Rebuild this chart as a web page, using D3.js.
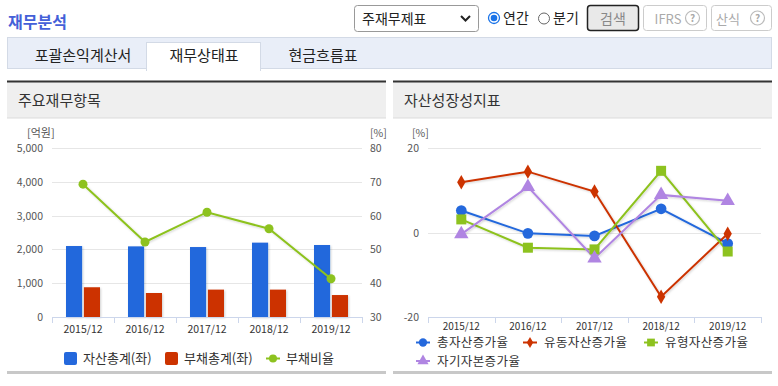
<!DOCTYPE html>
<html>
<head>
<meta charset="utf-8">
<script src="https://cdn.jsdelivr.net/npm/d3@7"></script>
<style>
  body { margin: 0; background: #fff; }
  svg text { font-family: "Noto Sans CJK KR", "Noto Sans", sans-serif; }
</style>
</head>
<body>
<div id="container"></div>
<script>
// 데이터
var years = ["2015/12", "2016/12", "2017/12", "2018/12", "2019/12"];
var assets = [2100, 2090, 2070, 2200, 2130];
var liabilities = [880, 710, 810, 810, 650];
var debtRatio = [69.3, 52.2, 61.0, 56.1, 41.3];
var leftTicks = [0, 1000, 2000, 3000, 4000, 5000];
var rightTicks = [30, 40, 50, 60, 70, 80];

var totalAssetGrowth = [5.2, -0.2, -0.8, 5.6, -2.6];
var currentAssetGrowth = [11.9, 14.4, 9.7, -15.2, -0.3];
var tangibleAssetGrowth = [3.1, -3.6, -4.0, 14.6, -4.5];
var equityGrowth = [-0.4, 10.8, -6.1, 8.9, 7.5];
var growthTicks = [-20, 0, 20];

var tabs = ["포괄손익계산서", "재무상태표", "현금흐름표"];

var svg = d3.select("#container").append("svg")
  .attr("width", 778).attr("height", 386);

var defs = svg.append("defs");
var f = defs.append("filter").attr("id", "shadow").attr("x", "-20%").attr("y", "-20%").attr("width", "150%").attr("height", "150%");
f.append("feDropShadow").attr("dx", 1).attr("dy", 1).attr("stdDeviation", 0.8)
  .attr("flood-color", "#000").attr("flood-opacity", 0.18);

// 상단 제목 / 컨트롤
svg.append("text").text("재무분석").attr("x", 8).attr("y", 28)
  .attr("font-size", 16).attr("font-weight", "bold").attr("fill", "#4460d8");

svg.append("rect").attr("x", 354.5).attr("y", 5.5).attr("width", 124).attr("height", 26).attr("rx", 3)
  .attr("fill", "#fff").attr("stroke", "#999");
svg.append("text").text("주재무제표").attr("x", 362).attr("y", 24).attr("font-size", 14).attr("fill", "#222");
svg.append("path").attr("d", "M461,16 L465.5,20.5 L470,16").attr("fill", "none").attr("stroke", "#222").attr("stroke-width", 2);

svg.append("circle").attr("cx", 494).attr("cy", 18).attr("r", 5.5).attr("fill", "#fff").attr("stroke", "#1a73e8").attr("stroke-width", 1.3);
svg.append("circle").attr("cx", 494).attr("cy", 18).attr("r", 3.3).attr("fill", "#1a73e8");
svg.append("text").text("연간").attr("x", 503).attr("y", 23).attr("font-size", 14).attr("fill", "#222");
svg.append("circle").attr("cx", 544).attr("cy", 18.5).attr("r", 5.5).attr("fill", "#fff").attr("stroke", "#666");
svg.append("text").text("분기").attr("x", 553).attr("y", 23).attr("font-size", 14).attr("fill", "#222");

svg.append("rect").attr("x", 587.5).attr("y", 5.5).attr("width", 51).attr("height", 25).attr("rx", 3)
  .attr("fill", "#e9e9e9").attr("stroke", "#222").attr("stroke-width", 1.5);
svg.append("text").text("검색").attr("x", 613).attr("y", 23.5).attr("text-anchor", "middle").attr("font-size", 14).attr("fill", "#888");

[[643.5, 63, "IFRS", 668], [711.5, 60, "산식", 728]].forEach(function (b) {
  svg.append("rect").attr("x", b[0]).attr("y", 5.5).attr("width", b[1]).attr("height", 25).attr("rx", 3)
    .attr("fill", "#fff").attr("stroke", "#ccc");
  svg.append("text").text(b[2]).attr("x", b[3]).attr("y", 23.5).attr("text-anchor", "middle")
    .attr("font-size", 13).attr("fill", "#aaa");
  var cx = b[0] + b[1] - 14;
  svg.append("circle").attr("cx", cx).attr("cy", 18).attr("r", 7).attr("fill", "#fff").attr("stroke", "#bbb").attr("stroke-width", 1.2);
  svg.append("text").text("?").attr("x", cx).attr("y", 22).attr("text-anchor", "middle").attr("font-size", 10)
    .attr("font-weight", "bold").attr("fill", "#aaa");
});

// 탭
svg.append("rect").attr("x", 7.5).attr("y", 37.5).attr("width", 764).attr("height", 31)
  .attr("fill", "#e9eef8").attr("stroke", "#d3dae6");
svg.append("rect").attr("x", 146.5).attr("y", 42.5).attr("width", 114).attr("height", 28)
  .attr("fill", "#fff").attr("stroke", "#d3dae6");
svg.append("rect").attr("x", 147).attr("y", 67).attr("width", 113).attr("height", 4).attr("fill", "#fff");
var tabX = [83, 204, 323];
tabs.forEach(function (t, i) {
  svg.append("text").text(t).attr("x", tabX[i]).attr("y", 61).attr("text-anchor", "middle")
    .attr("font-size", 15).attr("fill", "#222");
});

// 패널
function panel(x0, title) {
  svg.append("rect").attr("x", x0).attr("y", 82).attr("width", 379).attr("height", 36).attr("fill", "#efefef");
  svg.append("rect").attr("x", x0).attr("y", 80.5).attr("width", 379).attr("height", 2).attr("fill", "#333");
  svg.append("rect").attr("x", x0).attr("y", 117.5).attr("width", 379).attr("height", 1).attr("fill", "#dcdcdc");
  svg.append("text").text(title).attr("x", x0 + 11).attr("y", 106).attr("font-size", 15).attr("fill", "#333");
  svg.append("rect").attr("x", x0).attr("y", 371).attr("width", 379).attr("height", 3).attr("fill", "#c8c8c8");
}
panel(7, "주요재무항목");
panel(393, "자산성장성지표");

var tickColor = "#555";

// ===== 왼쪽 차트 =====
var xL = d3.scaleBand().domain(years).range([52, 362]);
var xSub = d3.scaleBand().domain(["a", "l"]).range([14, 48]).paddingInner(0.1);
var yL = d3.scaleLinear().domain([0, 5000]).range([317, 148]);
var yR = d3.scaleLinear().domain([30, 80]).range([317, 148]);

var gL = svg.append("g");
gL.selectAll(".grid").data(leftTicks.slice(1)).enter().append("line")
  .attr("x1", 52).attr("x2", 362).attr("y1", function (d) { return Math.round(yL(d)) + 0.5; })
  .attr("y2", function (d) { return Math.round(yL(d)) + 0.5; }).attr("stroke", "#e6e6e6");

gL.selectAll(".yl").data(leftTicks).enter().append("text")
  .attr("x", 43).attr("y", function (d) { return yL(d) + 4; }).attr("text-anchor", "end")
  .attr("font-size", 10.5).attr("fill", tickColor).text(function (d) { return d3.format(",")(d); });
gL.selectAll(".yr").data(rightTicks).enter().append("text")
  .attr("x", 370).attr("y", function (d) { return yR(d) + 4; })
  .attr("font-size", 10.5).attr("fill", tickColor).text(function (d) { return d; });
gL.append("text").text("[억원]").attr("x", 27).attr("y", 137).attr("font-size", 11).attr("fill", tickColor);
gL.append("text").text("[%]").attr("x", 370).attr("y", 137).attr("font-size", 10.5).attr("fill", tickColor);

gL.selectAll(".ba").data(assets).enter().append("rect")
  .attr("x", function (d, i) { return xL(years[i]) + xSub("a"); }).attr("width", xSub.bandwidth())
  .attr("y", function (d) { return yL(d); }).attr("height", function (d) { return yL(0) - yL(d); })
  .attr("fill", "#2468dc").attr("filter", "url(#shadow)");
gL.selectAll(".bl").data(liabilities).enter().append("rect")
  .attr("x", function (d, i) { return xL(years[i]) + xSub("l"); }).attr("width", xSub.bandwidth())
  .attr("y", function (d) { return yL(d); }).attr("height", function (d) { return yL(0) - yL(d); })
  .attr("fill", "#cc3300").attr("filter", "url(#shadow)");

// x 축
function xAxisLine(g, x, x1, x2, labelY, labelSize) {
  g.append("line").attr("x1", x1).attr("x2", x2).attr("y1", 317.5).attr("y2", 317.5).attr("stroke", "#ccd6eb");
  var edges = years.map(function (y) { return x(y); }).concat([x2]);
  g.selectAll(".tk").data(edges).enter().append("line")
    .attr("x1", function (d) { return Math.round(d) + 0.5; }).attr("x2", function (d) { return Math.round(d) + 0.5; })
    .attr("y1", 317).attr("y2", 323).attr("stroke", "#ccd6eb");
  g.selectAll(".xl").data(years).enter().append("text")
    .attr("x", function (d) { return x(d) + x.bandwidth() / 2; }).attr("y", labelY).attr("text-anchor", "middle")
    .attr("font-size", labelSize).attr("fill", "#333").text(function (d) { return d; });
}
xAxisLine(gL, xL, 52, 362, 333, 10.5);

var lineL = d3.line().x(function (d, i) { return xL(years[i]) + xL.bandwidth() / 2; }).y(function (d) { return yR(d); });
gL.append("path").datum(debtRatio).attr("d", lineL).attr("fill", "none").attr("stroke", "#8dc21f")
  .attr("stroke-width", 2).attr("filter", "url(#shadow)");
gL.selectAll(".dr").data(debtRatio).enter().append("circle")
  .attr("cx", function (d, i) { return xL(years[i]) + xL.bandwidth() / 2; }).attr("cy", function (d) { return yR(d); })
  .attr("r", 4.5).attr("fill", "#8dc21f");

// 왼쪽 범례
var legL = svg.append("g");
legL.append("rect").attr("x", 64).attr("y", 352).attr("width", 13).attr("height", 13).attr("rx", 2).attr("fill", "#2468dc");
legL.append("text").text("자산총계(좌)").attr("x", 83).attr("y", 363).attr("font-size", 13).attr("fill", "#333");
legL.append("rect").attr("x", 165).attr("y", 352).attr("width", 13).attr("height", 13).attr("rx", 2).attr("fill", "#cc3300");
legL.append("text").text("부채총계(좌)").attr("x", 184).attr("y", 363).attr("font-size", 13).attr("fill", "#333");
legL.append("line").attr("x1", 266).attr("x2", 280).attr("y1", 358.5).attr("y2", 358.5).attr("stroke", "#8dc21f").attr("stroke-width", 2);
legL.append("circle").attr("cx", 273).attr("cy", 358.5).attr("r", 4).attr("fill", "#8dc21f");
legL.append("text").text("부채비율").attr("x", 286).attr("y", 363).attr("font-size", 13).attr("fill", "#333");

// ===== 오른쪽 차트 =====
var xG = d3.scaleBand().domain(years).range([428, 761]);
var yG = d3.scaleLinear().domain([-20, 20]).range([317, 148]);
var gR = svg.append("g");

gR.selectAll(".grid").data(growthTicks.slice(1)).enter().append("line")
  .attr("x1", 428).attr("x2", 761).attr("y1", function (d) { return Math.round(yG(d)) + 0.5; })
  .attr("y2", function (d) { return Math.round(yG(d)) + 0.5; }).attr("stroke", "#e6e6e6");
gR.selectAll(".yl").data(growthTicks).enter().append("text")
  .attr("x", 419).attr("y", function (d) { return yG(d) + 4; }).attr("text-anchor", "end")
  .attr("font-size", 10.5).attr("fill", tickColor).text(function (d) { return d; });
gR.append("text").text("[%]").attr("x", 412).attr("y", 137).attr("font-size", 10.5).attr("fill", tickColor);
xAxisLine(gR, xG, 428, 761, 329.5, 10);

var series = [
  { name: "총자산증가율", values: totalAssetGrowth, color: "#2468dc", shape: d3.symbolCircle, size: 90 },
  { name: "유동자산증가율", values: currentAssetGrowth, color: "#cc3300", shape: d3.symbolDiamond, size: 60 },
  { name: "유형자산증가율", values: tangibleAssetGrowth, color: "#8dc21f", shape: d3.symbolSquare, size: 100 },
  { name: "자기자본증가율", values: equityGrowth, color: "#b085e2", shape: d3.symbolTriangle, size: 90 }
];
var cxG = function (i) { return xG(years[i]) + xG.bandwidth() / 2; };
var lineG = d3.line().x(function (d, i) { return cxG(i); }).y(function (d) { return yG(d); });

series.forEach(function (s) {
  gR.append("path").datum(s.values).attr("d", lineG).attr("fill", "none").attr("stroke", s.color)
    .attr("stroke-width", 2).attr("filter", "url(#shadow)");
});
series.forEach(function (s) {
  gR.selectAll(null).data(s.values).enter().append("path")
    .attr("d", d3.symbol().type(s.shape).size(s.size))
    .attr("transform", function (d, i) { return "translate(" + cxG(i) + "," + yG(d) + ")"; })
    .attr("fill", s.color);
});

// 오른쪽 범례
var legPos = [[423, 437, 342.5], [530, 544, 342.5], [651, 665, 342.5], [423, 437, 361]];
series.forEach(function (s, i) {
  var p = legPos[i];
  legL.append("line").attr("x1", p[0] - 7).attr("x2", p[0] + 7).attr("y1", p[2]).attr("y2", p[2])
    .attr("stroke", s.color).attr("stroke-width", 2);
  legL.append("path").attr("d", d3.symbol().type(s.shape).size(s.size * 0.6))
    .attr("transform", "translate(" + p[0] + "," + p[2] + ")").attr("fill", s.color);
  legL.append("text").text(s.name).attr("x", p[1]).attr("y", p[2] + 4.5).attr("font-size", 12.5)
    .attr("letter-spacing", 0.4).attr("fill", "#333");
});
</script>
</body>
</html>
